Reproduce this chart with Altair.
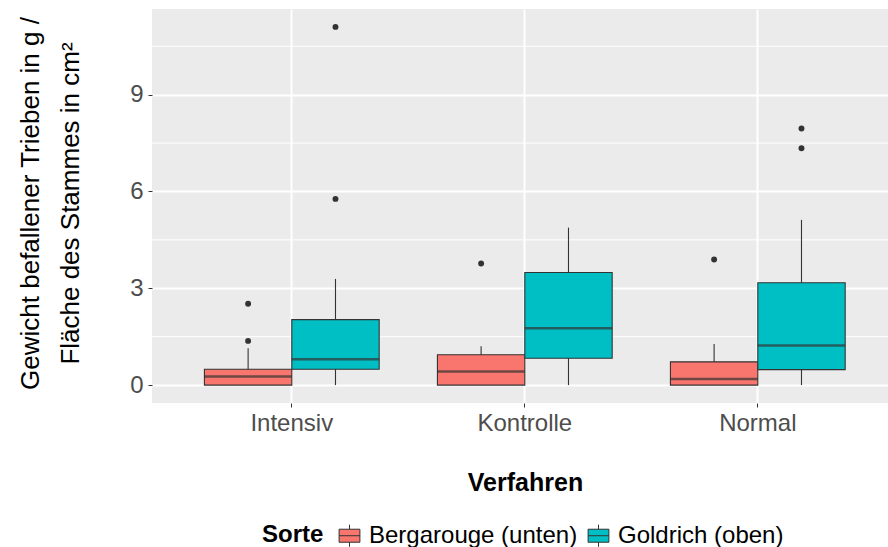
import altair as alt
import pandas as pd

# Categories
verfahren = ["Intensiv", "Kontrolle", "Normal"]
sorten = ["Bergarouge (unten)", "Goldrich (oben)"]
farben = ["#F8766D", "#00BFC4"]

# Box statistics, one entry per Verfahren x Sorte
box_verfahren = ["Intensiv", "Intensiv", "Kontrolle", "Kontrolle", "Normal", "Normal"]
box_sorte = [sorten[0], sorten[1]] * 3
lower = [0.0, 0.0, 0.0, 0.0, 0.0, 0.0]
q1 = [0.0, 0.49, 0.0, 0.83, 0.0, 0.48]
median = [0.27, 0.80, 0.42, 1.76, 0.19, 1.23]
q3 = [0.49, 2.03, 0.94, 3.49, 0.72, 3.17]
upper = [1.14, 3.29, 1.20, 4.88, 1.27, 5.12]

# Outliers
out_verfahren = ["Intensiv", "Intensiv", "Intensiv", "Intensiv",
                 "Kontrolle", "Normal", "Normal", "Normal"]
out_sorte = [sorten[0], sorten[0], sorten[1], sorten[1],
             sorten[0], sorten[0], sorten[1], sorten[1]]
out_wert = [1.37, 2.52, 5.77, 11.1, 3.77, 3.89, 7.34, 7.95]

# Axis ticks and minor grid
y_ticks = [0, 3, 6, 9]
y_minor = [1.5, 4.5, 7.5, 10.5]

boxes = pd.DataFrame({
    "Verfahren": box_verfahren, "Sorte": box_sorte,
    "lower": lower, "q1": q1, "median": median, "q3": q3, "upper": upper,
})
outliers = pd.DataFrame({"Verfahren": out_verfahren, "Sorte": out_sorte, "wert": out_wert})
minor = pd.DataFrame({"v": y_minor})

FONT = "Liberation Sans"
STEP = 233.0
BOX_W = STEP * 0.375

y_scale = alt.Scale(domain=[-0.555, 11.655], nice=False, zero=False)
x_scale = alt.Scale(domain=verfahren, range=[0, STEP * 3.2], paddingInner=0, paddingOuter=0.1)
off_scale = alt.Scale(domain=sorten, paddingInner=0, paddingOuter=1 / 3)

x_enc = alt.X(
    "Verfahren:N", scale=x_scale,
    axis=alt.Axis(
        title="Verfahren", labelAngle=0, domain=False,
        grid=True, gridColor="white", gridWidth=2,
        tickColor="#333333", tickSize=4, tickWidth=1,
        labelFontSize=24, labelColor="#4D4D4D", labelFont=FONT, labelPadding=4,
        titleFontSize=25, titleFontWeight="bold", titleColor="black", titleFont=FONT,
        titleX=373, titleY=87, titleBaseline="alphabetic", titleAnchor="middle",
    ),
)
x_off = alt.XOffset("Sorte:N", scale=off_scale)

y_axis = alt.Axis(
    values=y_ticks, domain=False,
    grid=True, gridColor="white", gridWidth=2,
    tickColor="#333333", tickSize=4, tickWidth=1,
    labelFontSize=24, labelColor="#4D4D4D", labelFont=FONT, labelPadding=5,
    title=["Gewicht befallener Trieben in g /", "Fläche des Stammes in cm²"],
    titleFontSize=26, titleFontWeight="normal", titleColor="black", titleFont=FONT,
    titleAngle=270, titleAlign="center", titleBaseline="middle",
    titleX=-122, titleY=194, titleLineHeight=40,
)

grid_minor = alt.Chart(minor).mark_rule(color="white", strokeWidth=1).encode(
    y=alt.Y("v:Q", scale=y_scale, axis=y_axis)
)

whisker = alt.Chart(boxes).mark_rule(color="#333333", strokeWidth=1.1).encode(
    x=x_enc, xOffset=x_off,
    y=alt.Y("lower:Q", scale=y_scale),
    y2="upper:Q",
)

# Legend key: small box with median line and whisker stubs
key_path = ("M-0.8,-0.5H0.8V0.5H-0.8Z M-0.8,0H0.8 "
            "M0,-0.5V-0.85 M0,0.5V0.85")

box = alt.Chart(boxes).mark_bar(stroke="#333333", strokeWidth=1.1).encode(
    x=x_enc, xOffset=x_off,
    y=alt.Y("q1:Q", scale=y_scale),
    y2="q3:Q",
    fill=alt.Fill(
        "Sorte:N", scale=alt.Scale(domain=sorten, range=farben),
        legend=alt.Legend(
            title="Sorte", orient="none", direction="horizontal", titleOrient="left",
            legendX=110, legendY=513,
            titleFontSize=24, titleFontWeight="bold", titleColor="black", titleFont=FONT,
            labelFontSize=24, labelColor="black", labelFont=FONT, labelLimit=400,
            symbolType=key_path, symbolSize=676,
            symbolStrokeColor="#333333", symbolStrokeWidth=1,
            labelOffset=6, columnPadding=7, titlePadding=12,
        ),
    ),
)

med = alt.Chart(boxes).mark_tick(
    color="#333333", thickness=2.5, size=BOX_W, orient="horizontal"
).encode(
    x=x_enc, xOffset=x_off,
    y=alt.Y("median:Q", scale=y_scale),
)

pts = alt.Chart(outliers).mark_circle(color="#333333", size=35, opacity=1).encode(
    x=x_enc, xOffset=x_off,
    y=alt.Y("wert:Q", scale=y_scale),
)

chart = (
    alt.layer(grid_minor, whisker, box, med, pts)
    .properties(
        width=736, height=394, autosize="none",
        padding={"left": 152, "top": 9, "right": 0, "bottom": 144},
        background="white",
    )
    .configure(font=FONT)
    .configure_view(fill="#EBEBEB", stroke=None)
)

chart.save("out.html", embed_options={"renderer": "svg", "actions": False})
